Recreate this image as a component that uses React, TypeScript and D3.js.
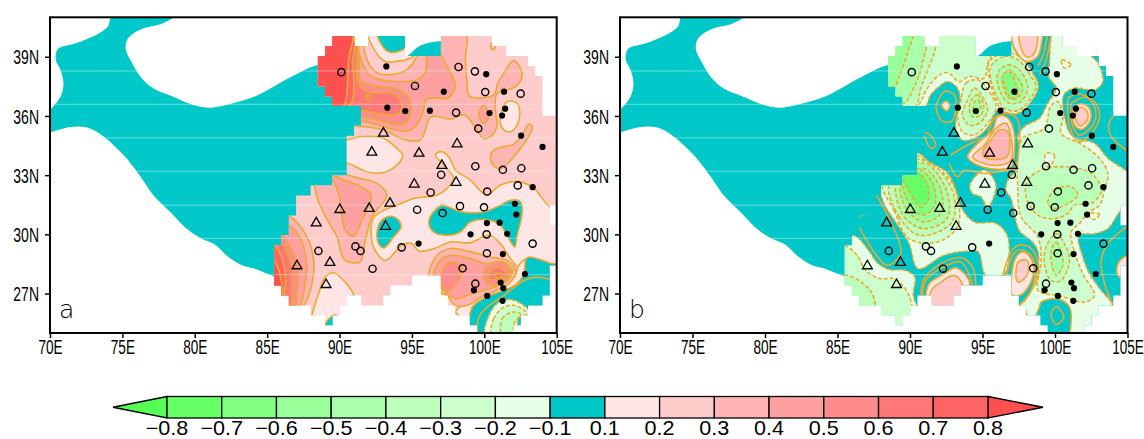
import React, { useEffect, useRef } from "react";
import * as d3 from "d3";

type Pt = [number, number];

// colour bar
const levels = [-0.8, -0.7, -0.6, -0.5, -0.4, -0.3, -0.2, -0.1, 0.1, 0.2, 0.3, 0.4, 0.5, 0.6, 0.7, 0.8];
const levelColors = ["#55ff55", "#66ff66", "#80ff80", "#99ff99", "#aaffaa", "#bbffbb", "#ccffcc", "#e6ffe6", "#00c8c8",
  "#ffe6e6", "#ffcccc", "#ffb4b4", "#ffa0a0", "#ff8c8c", "#ff7878", "#ff6464", "#ff5050"];
const xTicks = [70, 75, 80, 85, 90, 95, 100, 105];
const yTicks = [27, 30, 33, 36, 39];

// land mask drawn in the "near zero" colour on both maps
const tealLand: Pt[] = [[74.37,41.19],[73.99,40.52],[73.36,40.18],[72.48,39.88],[71.73,39.67],[70.55,39.39],[70.4,38.83],[70.73,38.33],[70.93,37.65],[70.73,36.98],[70.1,36.39],[69.35,36.05],[69.35,35.12],[70,35.17],[70.98,35.38],[71.98,35.46],[72.86,35.34],[73.86,34.87],[74.62,34.36],[75.37,33.78],[76.25,32.93],[77.12,32.01],[78.38,31.08],[79.38,30.32],[80.39,29.81],[81.39,29.48],[82.14,28.97],[83.15,28.47],[84.15,28.25],[85.15,27.96],[85.65,27.84],[86.66,28.21],[91.68,30.07],[97.32,33.44],[97.32,39.79],[96.94,39.79],[96.19,39.71],[95.44,39.51],[94.56,39],[91.68,38.75],[88.49,38.58],[86.91,38.07],[85.65,37.57],[84.15,36.98],[82.64,36.64],[81.14,36.42],[79.88,36.56],[78.38,37.01],[77.12,37.4],[76.25,37.99],[75.62,38.75],[75.24,39.34],[75.32,39.84],[75.75,40.18],[76.62,40.48],[77.63,40.65],[78.43,40.94],[78.88,41.19]];
const bandLats = [38.28, 36.59, 34.89, 33.2, 31.48, 29.8, 27.96];

// stair-step analysis footprint, one list of [west, east] per grid row from the top
const gridTop = 40.05;
const gridRow = 0.505;
const footprintRows: Pt[][] = [
  [[89.5,91],[92,94.5],[97,100.5]], [[89,94.5],[97,101.5]], [[88.5,103]], [[88.5,103.5]], [[88.5,104]], [[89,104]], [[89.5,104]], [[91.5,104]],
  [[91.5,105]], [[91,105]], [[90.5,105]], [[90.5,105]], [[90.5,105]], [[90.5,105]], [[89.5,105]], [[88,105]],
  [[87,105]], [[87,104.5]], [[86.5,104.5]], [[86.5,105]], [[86,105]], [[85.5,105]], [[85.5,105]], [[85.5,104.5]],
  [[85.5,95],[97,104.5]], [[86,93.5],[97,104.5]], [[86.5,90.5],[91.5,93],[97.5,104]], [[88,90],[98,103]], [[89,89.5],[99,102.5]], [[99.5,102]],
];

// stations
const dots: Pt[] = [[93.23,38.51],[100.13,38.12],[97.2,37.23],[101.36,37.23],[93.3,36.42],[94.54,36.25],[96.24,36.27],[100.36,36.15],[101.44,36.37],[101.23,36.02],[102.54,35],[104.02,34.43],[103.34,32.39],[102.11,31.55],[102.21,31],[100.18,30.57],[101.06,30.59],[99.05,30],[101.58,30.03],[95.46,29.53],[101.28,29],[102.81,27.99],[101.13,27.56],[101.31,27.27],[99.28,27.17],[100.2,26.88],[101.26,26.63]];
const rings: Pt[] = [[90.12,38.22],[95.21,37.52],[98.22,38.48],[99.35,38.26],[100.06,37.21],[102.51,37.13],[98.05,36.17],[99.58,35.36],[99.38,33.45],[101.28,33.27],[102.56,33.35],[97.02,33.02],[96.29,32.12],[100.2,32.17],[102.31,32.48],[95.36,31.25],[98.32,31.43],[99.98,31.37],[97.12,31.08],[100.16,30],[103.34,29.53],[91.1,29.39],[91.45,29.16],[88.54,29.16],[94.29,29.34],[100.18,29.04],[92.28,28.26],[98.5,28.28],[99.38,27.5]];
const triangles: Pt[] = [[93.03,35.12],[92.23,34.16],[95.49,34.11],[98.12,34.58],[97.07,33.49],[95.16,32.54],[98.05,32.63],[93.48,31.57],[92.05,31.31],[90.02,31.25],[88.39,30.57],[93.18,30.4],[89.34,28.57],[87.06,28.4],[89.07,27.45]];

// panel a, contour regions, painted in order; first number is a value inside the band
const panelA: [number, Pt[]][] = [
  [0.35, [[98.58,40.37],[98.69,38.85],[98.81,37.66],[98.97,37.02],[100.65,37.07],[100.93,37.66],[101.35,38.17],[102.04,38.81],[102.61,38.08],[102.15,37.49],[100.88,37.12],[100.77,36.3],[100.88,35.54],[100.54,35.03],[99.96,34.86],[99.27,35.54],[98.63,36.05],[97.66,35.83],[96.85,35.96],[96.27,35.93],[95.58,34.78],[94.43,34.81],[93.05,35.29],[90.97,35.49],[89.82,35.46],[88.67,35.79],[88.67,40.37]]],
  [0.45, [[96.5,40.2],[96.97,39.18],[97.96,37.66],[97.89,37.24],[97.43,36.9],[96.04,36.86],[95.7,36.05],[95.01,35.32],[94.2,35.25],[91.55,35.74],[88.67,35.74],[88.67,40.2]]],
  [0.55, [[91.25,39.86],[91.43,37.83],[92.13,37.57],[94.08,37.32],[94.84,36.81],[94.89,36.05],[94.43,35.59],[91.55,35.96],[89.82,35.96],[89.82,39.86]]],
  [0.65, [[91.09,39.86],[91.25,37.74],[91.89,37.24],[93.74,37.12],[94.31,36.56],[94.08,36.13],[93.28,36.05],[91.55,36.27],[89.82,36.27],[89.82,39.86]]],
  [0.75, [[90.97,39.86],[90.93,38.85],[90.74,36.56],[89.36,36.39],[89.36,39.86]]],
  [0.85, [[90.86,40.37],[90.63,38.85],[90.17,36.39],[88.67,36.39],[88.67,40.37]]],
  [0.35, [[91.43,39.86],[91.78,38.34],[92.47,37.91],[95.35,37.83],[95.93,38.25],[96,39.18],[96,39.86]]],
  [0.25, [[91.78,39.86],[92.13,38.51],[92.82,38.13],[94.43,38.25],[95.35,39.05],[95.35,39.86]]],
  [0.15, [[92.01,40.37],[92.47,39.27],[93.16,38.76],[93.85,38.76],[95.12,39.05],[95.12,40.37]]],
  [0, [[92.59,40.37],[93.05,39.44],[93.55,39.22],[94.55,39.44],[94.89,40.03],[94.55,40.37]]],
  [0.35, [[100.42,39.52],[100.58,39.73],[100.77,39.49],[100.58,39.35]]],
  [0.65, [[91.78,37.02],[92.17,37.02],[92.01,36.78]]],
  [0.35, [[103.07,35.59],[103.3,35.46],[103.19,35.12],[101.11,33.34],[100.54,33.59],[100.47,34.1],[100.88,34.35],[102.04,34.57],[102.61,35.03]]],
  [0.15, [[101.11,35.96],[101.58,36.73],[102.27,36.64],[102.45,36.13],[102.27,35.54],[101.81,35.2],[101.35,35.29],[101.11,35.63]]],
  [0.45, [[99.62,36.05],[99.96,36.56],[100.31,35.96],[99.96,35.63]]],
  [0.15, [[89.82,34.78],[90.47,34.78],[91.43,34.95],[93.05,34.86],[93.97,34.35],[94.36,34.02],[93.97,33.51],[92.93,33.12],[91.89,33.17],[90.47,33.63],[89.82,33.63]]],
  [0.15, [[92.17,30.21],[92.36,30.85],[93.05,31.22],[93.97,31.48],[95.12,31.82],[96.04,31.9],[96.74,31.99],[97.43,32.33],[97.89,32.83],[97.08,33.6],[96.62,34.02],[96.97,34.19],[97.54,33.94],[98,33.26],[99.04,32.75],[99.62,32.28],[100.19,31.99],[101.11,32.5],[102.38,32.67],[103.42,32.33],[104.53,31.39],[105.49,31.14],[105.49,28.17],[104.8,28.43],[103.65,28.68],[102.96,28.77],[102.38,28.34],[101.81,28.77],[101.11,29.53],[100.31,29.95],[99.04,29.58],[97.66,29.61],[96.5,29.27],[95.47,29.16],[95,29.53],[94.27,29.44],[93.85,29.11],[93.16,28.68],[92.4,29.28]]],
  [0.35, [[88.21,33.09],[88.28,32.5],[88.55,31.65],[89.24,30.63],[89.82,29.87],[90.28,28.77],[90.86,28.56],[91.43,28.6],[91.78,29.7],[92.24,30.89],[93.28,31.99],[92.59,32.58],[91.43,32.83],[89.47,33.17]]],
  [0.45, [[89.47,33],[89.94,32.07],[90.4,30.2],[90.97,29.9],[91.55,30.72],[92.19,31.99],[91.55,32.38],[90.05,32.83]]],
  [0.35, [[84.52,31.22],[86.48,30.94],[87.63,30.04],[88.21,28.68],[88.09,27.5],[87.28,26.22],[84.52,26.22]]],
  [0.45, [[84.52,30.46],[86.48,30.46],[87.24,29.87],[87.7,28.77],[87.63,27.5],[87.05,26.22],[84.52,26.22]]],
  [0.55, [[84.52,30],[85.97,30],[86.64,29.28],[87.17,28.26],[87.05,27.16],[86.82,26.22],[84.52,26.22]]],
  [0.65, [[84.52,29.53],[85.97,29.53],[86.59,28.68],[86.71,27.66],[86.48,26.22],[84.52,26.22]]],
  [0.75, [[84.52,29.44],[85.49,29.44],[86.02,28.77],[86.25,27.83],[86.02,26.82],[84.52,26.82]]],
  [0.85, [[84.52,28.68],[85.49,28.6],[85.9,27.92],[85.97,26.82],[84.52,26.82]]],
  [0.15, [[88.09,25.63],[88.09,25.88],[88.55,26.99],[89.01,27.83],[89.59,28.05],[90.28,27.66],[90.97,26.94],[91.2,25.63]]],
  [0, [[89.01,25.41],[89.52,25.88],[89.82,25.88],[89.82,25.29]]],
  [0.15, [[102.38,28.43],[102.96,28.77],[102.5,27.66],[101.35,26.99],[99.96,26.73],[99.16,26.31],[98.97,25.41],[98.12,25.97],[98,26.05],[99.04,26.73],[100.19,27.07],[101.35,27.36],[102.15,27.92]]],
  [0.35, [[96.16,27.83],[96.74,28.94],[97.66,29.28],[99.04,29.11],[100.42,28.85],[101.58,28.68],[102.15,28.17],[101.81,27.58],[100.88,27.16],[99.96,26.9],[98.81,26.39],[98,26.39],[97.43,26.9],[96.74,27.16]]],
  [0.45, [[96.5,27.83],[96.97,28.68],[97.77,28.94],[99.04,28.77],[100.19,28.51],[101.35,28.6],[101.92,28.17],[101.58,27.66],[100.65,27.33],[99.5,27.07],[98.81,26.9],[98,26.73],[97.31,27.07]]],
  [0.55, [[96.97,27.66],[97.31,28.43],[97.89,28.6],[98.46,28.26],[98.12,27.58],[97.43,27.07]]],
  [0.55, [[99.96,28.09],[100.54,28.51],[101.23,28.6],[101.81,28.09],[101.46,27.66],[100.65,27.41],[100.08,27.66]]],
  [0.65, [[100.31,28],[100.77,28.31],[101.35,28.17],[101.53,27.92],[100.88,27.7],[100.42,27.75]]],
  [0.75, [[100.65,27.95],[101.11,28.04],[101.23,27.89],[100.84,27.83]]],
  [0, [[102.96,28.82],[104.53,28.55],[105.49,28.34],[105.49,24.78],[99.04,24.78],[98.97,25.8],[99.27,26.39],[100.19,26.85],[101.35,27.16],[102.27,27.5],[102.73,28]]],
  [-0.15, [[100.08,24.87],[100.31,25.88],[101,26.56],[101.92,26.68],[103.07,26.14],[103.07,25.8],[102.38,25.8],[102.04,24.87]]],
  [-0.25, [[100.54,24.87],[100.65,25.72],[101.35,26.31],[102.15,26.39],[102.96,25.97],[102.38,25.8],[102.15,24.87]]],
  [-0.35, [[101.23,24.87],[101.23,25.72],[101.92,26.05],[102.5,25.97],[102.04,25.46],[101.99,24.87]]],
  [0, [[96.16,30.63],[96.5,31.14],[97.08,31.48],[97.77,31.31],[98.46,31.14],[99.96,31.14],[101.11,31.48],[101.81,31.73],[102.5,31.65],[102.61,31.05],[102.27,29.95],[102.1,29.36],[101.69,29.78],[101.11,30.46],[100.31,30.72],[99.04,30.63],[98.35,30.12],[97.43,29.95],[96.5,30.12]]],
  [0, [[92.59,30.12],[92.93,30.72],[93.55,30.92],[94.08,30.72],[94.25,30.38],[93.74,29.87],[93.05,29.31],[92.7,29.53]]],
];
const panelALines: Pt[][] = [
  [[99.5,25],[99.62,25.8],[100.19,26.31],[101.35,26.9],[102.73,27.66],[103.54,27.83],[104.53,27.72]],
];

// panel b
const panelB: [number, Pt[]][] = [
  [-0.15, [[99.96,40.37],[101.35,40.37],[102.5,39.05],[102.96,38.68],[103.3,37.74],[102.73,37.32],[101.35,37.41],[100.61,37.07],[100.7,35.79],[101.23,34.95],[102.73,34.61],[103.65,33.85],[105.26,32.91],[105.26,31.39],[104.53,31.18],[103.65,30.29],[102.73,30.03],[101.64,29.95],[101.92,28.85],[102.38,28],[103.19,27.15],[103.95,26.42],[103.65,25.63],[102.27,24.61],[98.12,24.61],[98,26.13],[97.54,26.3],[98.23,26.98],[98.81,28.17],[98.81,29.18],[98.35,29.69],[97.54,30.2],[96.97,31.81],[96.62,32.24],[96.74,32.74],[97.31,33.25],[97.77,34.1],[97.43,34.95],[97.89,35.46],[98.92,35.88],[99.5,36.64],[100.08,37.41],[99.55,38],[99.62,38.68]]],
  [-0.25, [[97.77,34.87],[99.27,35.38],[99.69,36.48],[100.19,36.73],[100.54,35.97],[100.42,35.12],[101.69,34.61],[102.96,33.94],[103.65,33.09],[103.42,32.24],[103.07,31.48],[102.38,31.14],[101.69,30.55],[101.11,30.12],[101.35,29.11],[101.92,28],[102.73,26.9],[102.04,26.56],[101,26.73],[100.19,26.9],[99.27,26.99],[98.81,27.16],[99.04,28.68],[98.81,29.87],[97.66,30.89],[97.43,32.41],[97.43,33.77]]],
  [-0.35, [[98,31.9],[98.12,32.75],[99.04,33.26],[100.65,33.43],[102.5,33.09],[103.19,32.24],[102.5,31.56],[101.35,31.48],[100.88,31.06],[99.96,30.8],[98.81,30.97]]],
  [-0.45, [[99.5,31.56],[99.96,32.24],[101.11,32.41],[101.58,31.99],[100.88,31.56],[99.96,31.31]]],
  [-0.35, [[99.39,29.36],[100.08,30.04],[100.65,29.53],[101,28.68],[100.42,27.66],[99.73,27.66],[99.27,28.51]]],
  [-0.45, [[99.73,29.19],[100.08,29.61],[100.42,29.11],[100.54,28.43],[100.08,27.92],[99.85,28.26]]],
  [-0.15, [[99.39,34.1],[99.96,34.02],[99.62,33.42],[99.32,33.59]]],
  [-0.15, [[100.42,38.85],[101.11,38.59],[100.65,38.42],[100.51,38.59]]],
  [-0.15, [[102.38,31.06],[103.07,31.02],[102.73,30.75],[102.45,30.83]]],
  [0, [[99.04,26.56],[100.19,26.73],[101,26.31],[101.11,25.63],[100.88,24.87],[99.5,24.87],[98.58,25.46],[98.92,26.31]]],
  [0, [[99.73,25.97],[100.08,26.34],[100.61,25.8],[100.08,25.43]]],
  [0.15, [[105.49,29.02],[104.99,28.94],[104.34,28.51],[104.34,27.92],[104.99,27.66],[105.49,27.66]]],
  [0.15, [[101.23,36.3],[101.76,36.61],[102.38,36.39],[102.45,35.79],[101.85,35.32],[101.35,35.54]]],
  [0.25, [[101.41,36.13],[101.81,36.44],[102.22,36.22],[102.22,35.79],[101.76,35.49],[101.48,35.71]]],
  [0.15, [[96.97,27.5],[97.31,28.85],[97.84,29.11],[98.46,28.6],[98.46,27.83],[97.77,26.99],[97.08,26.9]]],
  [0.25, [[97.36,27.67],[97.47,28.6],[98.07,28.68],[98.12,28],[97.54,27.58]]],
  [-0.15, [[87.98,40.37],[96.97,40.37],[96.97,39.86],[97.43,39.02],[98.12,38.42],[98.81,37.66],[98.46,37.07],[97.77,36.44],[96.97,36.13],[95.93,36.22],[95.47,35.54],[94.66,34.95],[93.62,34.78],[93.16,35.37],[93.32,36.3],[93.46,36.81],[93.28,37.41],[92.59,37.74],[92.01,37.49],[91.43,37.07],[90.97,36.44],[87.98,36.44]]],
  [-0.25, [[87.98,40.37],[94.55,40.37],[95.58,39.02],[95.35,38.68],[95.12,37.91],[94.08,38],[93.39,37.74],[92.59,38.2],[91.89,38],[91.2,37.41],[90.4,36.44],[87.98,36.44]]],
  [-0.35, [[87.98,40.37],[91.78,40.37],[91.78,39.52],[91.32,38.51],[90.74,37.41],[90.33,36.44],[87.98,36.44]]],
  [-0.45, [[87.98,40.37],[91.09,40.37],[90.86,38.68],[90.4,37.66],[89.59,36.64],[87.98,36.44]]],
  [-0.55, [[87.98,40.37],[90.17,40.37],[89.82,39.18],[89.01,37.49],[88.78,36.95],[87.98,36.95]]],
  [-0.25, [[93.51,36.81],[93.85,37.66],[94.66,37.83],[95.47,37.24],[95.93,36.39],[95.35,35.63],[94.43,35.03],[93.62,35.2],[93.28,35.96]]],
  [-0.35, [[93.97,36.81],[94.43,37.41],[95,36.98],[95.35,36.3],[94.78,35.63],[94.08,35.54],[93.62,36.05]]],
  [-0.45, [[94.31,36.9],[94.66,37.07],[95.08,36.56],[94.89,36.05],[94.31,35.96],[94.08,36.39]]],
  [-0.55, [[94.48,36.73],[94.71,36.81],[94.89,36.47],[94.66,36.22],[94.38,36.3]]],
  [-0.25, [[95.47,38.76],[96.5,39.19],[97.54,39.02],[98.53,38.08],[98.85,37.49],[98.35,36.73],[97.43,36.13],[96.39,36.27],[95.77,37.07],[95.47,37.91]]],
  [-0.35, [[95.58,38.51],[96.5,39.02],[97.43,38.85],[98.35,38],[98.69,37.49],[98.23,36.81],[97.43,36.27],[96.5,36.39],[95.93,37.07],[95.58,37.83]]],
  [-0.45, [[96.04,38.17],[96.74,38.59],[97.54,38.34],[98.12,37.49],[97.66,36.73],[96.85,36.64],[96.27,37.15]]],
  [-0.55, [[96.39,38],[96.85,38.34],[97.43,37.91],[97.77,37.41],[97.43,36.9],[96.85,36.9],[96.5,37.32]]],
  [-0.65, [[96.39,38.08],[96.85,38.25],[97.31,37.57],[97.43,37.07],[96.97,36.9],[96.62,37.41]]],
  [0.15, [[96.85,40.37],[96.97,40.07],[97.2,39.44],[98,38.76],[98.81,39.02],[99.16,40.07],[99.27,40.37]]],
  [0.25, [[97.59,40.37],[97.66,39.44],[98.07,38.98],[98.58,39.18],[98.69,40.37]]],
  [0.15, [[93.97,33.93],[94.66,34.61],[95.7,35.29],[96.04,35.96],[96.62,35.96],[97.08,35.46],[97.2,34.1],[96.97,33.42],[96.04,33.3],[94.66,33.51]]],
  [0.25, [[94.31,33.93],[95.12,34.52],[95.93,35.37],[96.62,35.63],[96.92,35.12],[96.97,33.76],[96.27,33.51],[95.12,33.59]]],
  [0.35, [[95,34.18],[95.58,34.78],[96.16,35.29],[96.74,35.2],[96.69,33.93],[95.81,33.79],[95.12,33.93]]],
  [0.15, [[92.19,36.51],[92.47,36.76],[92.75,36.52],[92.54,36.27]]],
  [-0.15, [[87.98,32.5],[89.47,32.5],[89.47,33],[90.47,34.11],[91.32,33.68],[92.59,33.09],[93.16,32.24],[93.51,31.39],[94.43,30.63],[95.93,30.55],[96.74,29.87],[96.5,28],[95.24,27.92],[94.71,29.11],[94.08,29.16],[92.36,28.94],[90.56,28.26],[89.94,29.53],[89.24,30.38],[88.21,31.56]]],
  [-0.25, [[88.09,32.5],[88.9,31.22],[89.94,29.78],[91.89,29.61],[93.28,30.38],[93.32,31.73],[92.7,32.83],[91.32,33.6],[90.47,33.97],[89.47,33],[89.47,32.5]]],
  [-0.35, [[88.55,32.5],[89.24,30.89],[90.63,29.95],[92.82,30.55],[93.05,31.9],[92.01,33.26],[90.47,33.8],[89.52,33]]],
  [-0.45, [[89.01,32.5],[89.59,30.89],[90.97,30.29],[92.54,30.8],[92.59,32.07],[91.32,33.51],[90.47,33.6],[89.52,33]]],
  [-0.55, [[89.36,32.5],[89.82,31.22],[90.97,30.63],[92.13,31.05],[92.13,32.24],[90.97,33.34]]],
  [-0.65, [[89.43,33.09],[89.94,31.56],[90.86,30.97],[91.66,31.39],[91.66,32.41],[90.74,33.26]]],
  [-0.75, [[89.47,33.09],[90.17,31.9],[90.74,31.36],[91.25,31.73],[91.25,32.41],[90.63,33.09]]],
  [-0.15, [[94.13,32.5],[95.12,33.26],[95.93,32.5],[95.35,31.39],[94.89,31.9],[94.31,32.07]]],
  [-0.15, [[84.75,29.53],[85.97,29.95],[86.48,29.78],[87.17,29.16],[87.75,28.56],[88.55,28.22],[89.7,28.17],[90.33,27.83],[90.23,26.9],[90.74,25.55],[84.75,25.55]]],
  [-0.25, [[84.75,29.44],[85.49,29.44],[86.36,28.94],[86.94,28.17],[87.98,27.75],[88.9,27.75],[89.94,26.9],[89.94,25.55],[84.75,25.55]]],
  [-0.35, [[84.75,28],[85.49,27.97],[86.48,27.66],[87.4,26.99],[87.52,26.22],[84.75,26.22]]],
  [0.15, [[91.09,26.9],[91.32,27.5],[92.36,28],[93.16,28.31],[94.08,27.66],[94.08,27.33],[93.05,26.31],[91.09,26.31]]],
  [0.25, [[91.39,26.31],[91.48,27.16],[92.13,27.58],[93.05,27.92],[93.62,27.46],[93.51,26.31]]],
];
const panelBLines: Pt[][] = [
  [[99.46,40.07],[99.16,39.02],[98.81,38.51]],
  [[99.73,40.07],[99.32,38.68],[98.92,38.08]],
  [[96.39,27.92],[96.97,29.11],[97.43,29.44],[98.23,29.36],[98.81,28.6],[98.81,27.83],[98.23,26.99],[97.54,26.39]],
  [[96.67,27.92],[97.08,28.94],[97.54,29.22],[98.35,28.94],[98.62,28.26],[98.46,27.33],[97.84,26.56]],
  [[92.82,34.02],[93.74,34.44],[94.43,34.69],[95.24,34.95],[95.81,35.88],[96.74,36.13],[97.43,35.79],[97.54,34.61],[97.2,33.34],[96.62,33.25],[95.12,33.08],[93.74,33.25],[93.28,32.91],[92.7,33.59]],
  [[100.88,36.9],[101.58,37.12],[102.61,36.81],[103.07,36.13],[102.84,35.46],[101.69,34.69],[101,35.46],[100.88,36.9]],
  [[101.11,36.64],[102.15,36.95],[102.77,36.39],[102.68,35.63],[101.69,35.03],[101.16,35.63],[101.11,36.64]],
  [[91.78,36.47],[92.36,37.24],[93.05,37.07],[93.16,36.3],[92.82,35.71],[92.13,35.79],[91.78,36.47]],
  [[90.97,35.15],[91.25,35.12],[91.78,34.52],[91.43,34.35],[90.97,35.03]],
  [[87.7,31.99],[89.13,29.87],[89.36,29.02],[88.44,28.43],[87.52,29.11],[86.48,30.38]],
  [[86.48,30.92],[87.05,31.02]],
  [[90.74,26.9],[90.97,27.75],[92.13,28.51],[93.51,28.82],[94.31,28.34],[94.55,27.41]],
  [[90.86,26.9],[91.09,27.66],[92.24,28.31],[93.51,28.6],[94.15,27.83],[94.31,27.41]],
  [[105.26,30.55],[103.65,29.53],[103.19,28.68],[103.42,27.5],[103.99,26.43]],
  [[104.11,36.05],[103.72,35.63],[103.88,34.95],[105.26,34.1]],
];

const contourColor = "#e8aa30";
const fillOf = d3.scaleThreshold<number, string>().domain(levels).range(levelColors);
const closedPath = d3.line().curve(d3.curveCatmullRomClosed.alpha(0.5));
const openPath = d3.line().curve(d3.curveCatmullRom.alpha(0.5));
const trianglePath = d3.symbol().type(d3.symbolTriangle).size(42)();
const labelFont = "'Liberation Sans', sans-serif";

const width = 1144;
const height = 439;

function Panel({ id, left, right, letter, base, layers, lines }: {
  id: string; left: number; right: number; letter: string; base: number;
  layers: [number, Pt[]][]; lines: Pt[][];
}) {
  const axisRef = useRef<SVGGElement>(null);
  const top = 17.3;
  const bottom = 333;
  const x = d3.scaleLinear().domain([70, 105]).range([left, right]);
  const y = d3.scaleLinear().domain([25, 41]).range([bottom, top]);
  const project = (pts: Pt[]) => pts.map(([lon, lat]) => [x(lon), y(lat)] as Pt);

  useEffect(() => {
    const g = d3.select(axisRef.current);
    g.selectAll("*").remove();
    const xAxis = g.append("g").attr("transform", `translate(0,${bottom})`)
      .call(d3.axisBottom(x).tickValues(xTicks).tickSize(5).tickPadding(2).tickFormat((d) => `${d}E`));
    const yAxis = g.append("g").attr("transform", `translate(${left},0)`)
      .call(d3.axisLeft(y).tickValues(yTicks).tickSize(5).tickPadding(6).tickFormat((d) => `${d}N`));
    [xAxis, yAxis].forEach((a) => {
      a.select(".domain").remove();
      a.selectAll("line").attr("stroke", "#000").attr("stroke-width", 1.5);
      a.selectAll("text").attr("font-family", labelFont).attr("font-size", 20).attr("fill", "#000");
    });
    // the original labels are a tall narrow plotter font, so squeeze them sideways
    xAxis.selectAll("text").attr("transform", "scale(0.68,1)");
    yAxis.selectAll("text").attr("x", -11 / 0.7).attr("dy", "0.36em").attr("transform", "scale(0.7,1)");
  }, []);

  return (
    <g>
      <defs>
        <clipPath id={`${id}-frame`}>
          <rect x={left} y={top} width={right - left} height={bottom - top} />
        </clipPath>
        <clipPath id={`${id}-grid`}>
          {footprintRows.flatMap((row, i) => row.map(([w, e]) => (
            <rect key={`${i}-${w}`} x={x(w)} y={y(gridTop - i * gridRow)} width={x(e) - x(w) + 0.3}
              height={y(gridTop - (i + 1) * gridRow) - y(gridTop - i * gridRow) + 0.3} />
          )))}
        </clipPath>
        <clipPath id={`${id}-land`}>
          <path d={closedPath(project(tealLand)) ?? ""} />
        </clipPath>
      </defs>
      <g clipPath={`url(#${id}-frame)`}>
        <path d={closedPath(project(tealLand)) ?? ""} fill={fillOf(0)} />
        <g clipPath={`url(#${id}-land)`}>
          {bandLats.map((lat) => (
            <line key={lat} x1={left} x2={right} y1={y(lat)} y2={y(lat)} stroke="#ffffff" strokeOpacity={0.4} />
          ))}
        </g>
        <g clipPath={`url(#${id}-grid)`}>
          <rect x={left} y={top} width={right - left} height={bottom - top} fill={fillOf(base)} />
          {layers.map(([v, pts], i) => (
            <path key={i} d={closedPath(project(pts)) ?? ""} fill={fillOf(v)} stroke={contourColor}
              strokeWidth={1.6} strokeDasharray={v < 0 ? "4 2" : undefined} strokeLinejoin="round" />
          ))}
          {lines.map((pts, i) => (
            <path key={i} d={openPath(project(pts)) ?? ""} fill="none" stroke={contourColor} strokeWidth={1.6} />
          ))}
          {bandLats.map((lat) => (
            <line key={lat} x1={left} x2={right} y1={y(lat)} y2={y(lat)} stroke="#dff6f6" strokeOpacity={0.45} />
          ))}
        </g>
      </g>
      {dots.map(([lon, lat], i) => <circle key={i} cx={x(lon)} cy={y(lat)} r={3.1} fill="#000" />)}
      {rings.map(([lon, lat], i) => (
        <circle key={i} cx={x(lon)} cy={y(lat)} r={3.6} fill="none" stroke="#000" strokeWidth={1.4} />
      ))}
      {triangles.map(([lon, lat], i) => (
        <path key={i} d={trianglePath ?? ""} transform={`translate(${x(lon)},${y(lat)})`} fill="none" stroke="#000" strokeWidth={1.3} />
      ))}
      <rect x={left} y={top} width={right - left} height={bottom - top} fill="none" stroke="#000" strokeWidth={2} />
      <g ref={axisRef} />
      <text x={left + 9} y={318} fontFamily="'DejaVu Sans Light', 'DejaVu Sans', sans-serif" fontSize={25}>{letter}</text>
    </g>
  );
}

function ColorBar() {
  const x = d3.scalePoint<number>().domain(levels).range([167, 988]);
  const y0 = 396.5;
  const y1 = 418;
  const mid = (y0 + y1) / 2;
  return (
    <g>
      <polygon points={`${x(levels[0])},${y0} 113,${mid} ${x(levels[0])},${y1}`} fill={levelColors[0]} stroke="#000" strokeWidth={1.3} />
      <polygon points={`${x(levels[15])},${y0} 1043,${mid} ${x(levels[15])},${y1}`} fill={levelColors[16]} stroke="#000" strokeWidth={1.3} />
      {levels.slice(0, -1).map((lv, i) => (
        <rect key={lv} x={x(lv)} y={y0} width={x(levels[i + 1])! - x(lv)!} height={y1 - y0}
          fill={levelColors[i + 1]} stroke="#000" strokeWidth={1.3} />
      ))}
      {levels.map((lv) => (
        <text key={lv} transform={`translate(${x(lv)},434.5) scale(1.08,1)`} textAnchor="middle" fontFamily={labelFont} fontSize={20}>
          {lv < 0 ? `\u2212${(-lv).toFixed(1)}` : lv.toFixed(1)}
        </text>
      ))}
    </g>
  );
}

export default function App() {
  return (
    <svg width={width} height={height} style={{ position: "absolute", left: 0, top: 0, background: "#fff" }}>
      <Panel id="a" left={50} right={556.7} letter="a" base={0.25} layers={panelA} lines={panelALines} />
      <Panel id="b" left={620} right={1127.5} letter="b" base={0} layers={panelB} lines={panelBLines} />
      <ColorBar />
    </svg>
  );
}
